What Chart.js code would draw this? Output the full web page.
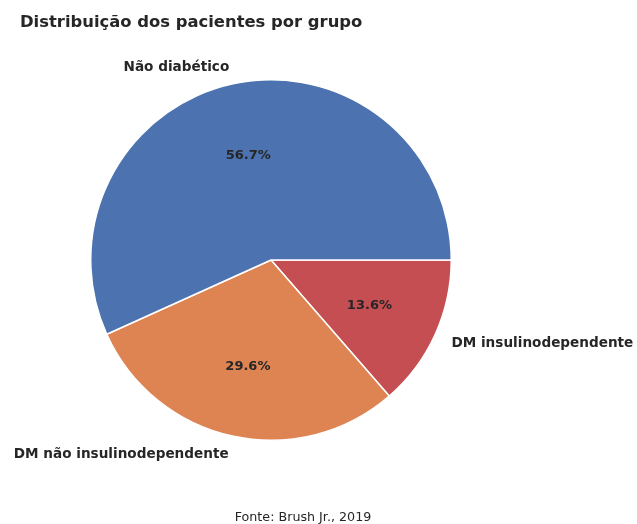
<!DOCTYPE html>
<html>
<head>
<meta charset="utf-8">
<script src="https://cdn.jsdelivr.net/npm/chart.js@4"></script>
<style>
    body { margin: 0; background: #fff; }
    #wrap { position: relative; width: 637px; height: 524px; }
</style>
</head>
<body>
<div id="wrap"><canvas id="pie-chart" width="637" height="524"></canvas></div>
<script>
// Data (matplotlib order, counterclockwise from 3 o'clock)
var categories = ['Não diabético', 'DM não insulinodependente', 'DM insulinodependente'];
var shares = [56.7, 29.6, 13.6];
var colors = ['#4c72b0', '#dd8452', '#c44e52'];

var titleText = 'Distribuição dos pacientes por grupo';
var sourceText = 'Fonte: Brush Jr., 2019';

// Chart.js draws clockwise, so reverse to mimic the counterclockwise layout
var drawLabels = categories.slice().reverse();
var drawValues = shares.slice().reverse();
var drawColors = colors.slice().reverse();

var textColor = '#262626';
var fontFamily = '"DejaVu Sans", sans-serif';

// Draw category names outside and percentages inside, like matplotlib autopct
var sliceLabels = {
    id: 'sliceLabels',
    afterDatasetsDraw: function (chart) {
        var ctx = chart.ctx;
        var arcs = chart.getDatasetMeta(0).data;
        ctx.save();
        ctx.fillStyle = textColor;
        arcs.forEach(function (arc, i) {
            var mid = (arc.startAngle + arc.endAngle) / 2;
            var r = arc.outerRadius;
            var cx = Math.cos(mid), cy = Math.sin(mid);

            // percentage
            ctx.font = 'bold 13px ' + fontFamily;
            ctx.textAlign = 'center';
            ctx.textBaseline = 'middle';
            ctx.fillText(drawValues[i].toFixed(1) + '%', arc.x + cx * r * 0.6, arc.y + cy * r * 0.6 + 1);

            // category name
            ctx.font = 'bold 13.6px ' + fontFamily;
            ctx.textAlign = cx < 0 ? 'right' : 'left';
            ctx.fillText(drawLabels[i], arc.x + cx * r * 1.1, arc.y + cy * r * 1.1 + 1);
        });

        ctx.font = 'bold 16.4px ' + fontFamily;
        ctx.textAlign = 'left';
        ctx.fillText(titleText, 20, 23);

        ctx.font = '12.7px ' + fontFamily;
        ctx.textAlign = 'center';
        ctx.fillText(sourceText, 303, 518);
        ctx.restore();
    }
};

var ctx = document.getElementById('pie-chart').getContext('2d');
var pieChart = new Chart(ctx, {
    type: 'pie',
    data: {
        labels: drawLabels,
        datasets: [{
            data: drawValues,
            backgroundColor: drawColors,
            borderColor: '#ffffff',
            borderWidth: 1.5
        }]
    },
    options: {
        responsive: false,
        animation: false,
        rotation: 90,
        layout: { padding: { left: 90, right: 185, top: 79, bottom: 83 } },
        plugins: {
            legend: { display: false },
            tooltip: { enabled: false }
        }
    },
    plugins: [sliceLabels]
});
</script>
</body>
</html>
